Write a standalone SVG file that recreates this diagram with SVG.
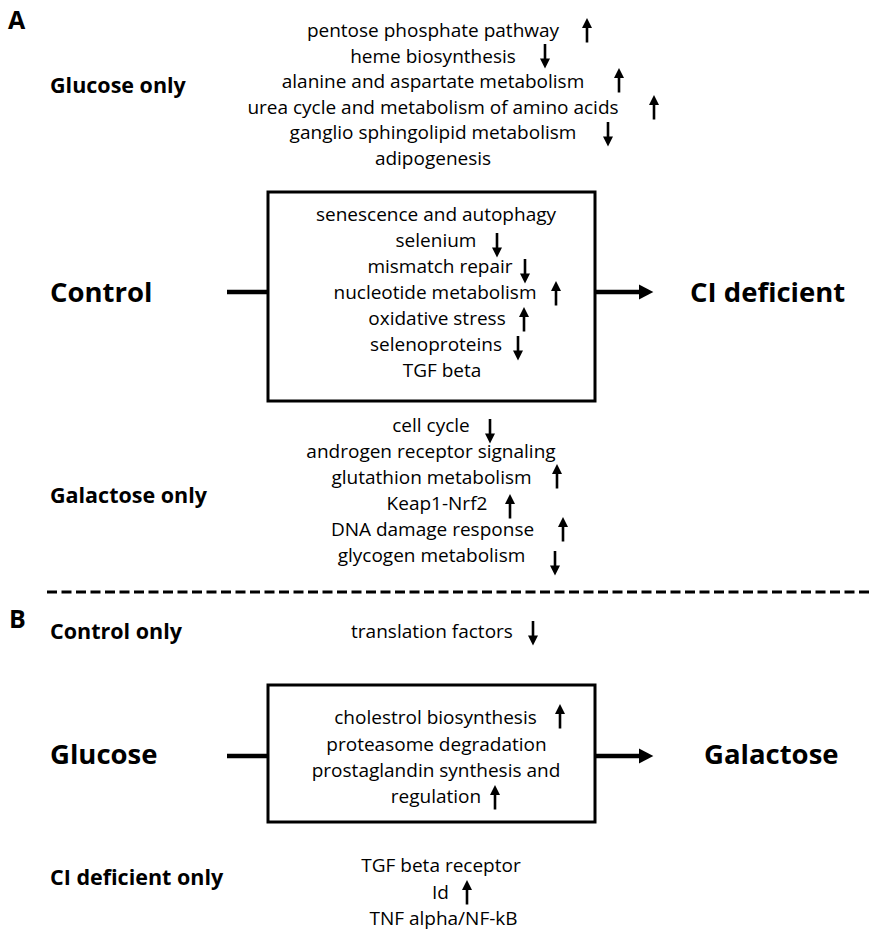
<svg xmlns="http://www.w3.org/2000/svg" xmlns:xlink="http://www.w3.org/1999/xlink" width="873" height="930" viewBox="0 0 873 930">
<style>
  .t { font-family: "Open Sans", "Liberation Sans", sans-serif; font-size: 19px; fill: #000; text-anchor: middle; }
  .lab { font-family: "Open Sans", "Liberation Sans", sans-serif; font-size: 21.5px; font-weight: bold; fill: #000; }
  .big { font-family: "Open Sans", "Liberation Sans", sans-serif; font-size: 27.5px; font-weight: bold; fill: #000; }
  .panel { font-family: "Open Sans", "Liberation Sans", sans-serif; font-size: 25px; font-weight: bold; fill: #000; }
  .box { fill: #fff; stroke: #000; stroke-width: 3; }
  .conn { stroke: #000; stroke-width: 4.5; fill: none; }
  .dash { stroke: #000; stroke-width: 3.2; stroke-dasharray: 10 4.5; fill: none; }
</style>
<defs>
  <g id="up"><line x1="0" y1="8" x2="0" y2="24.5" stroke="#000" stroke-width="2.6"/><polygon points="-5,10 0,0 5,10" fill="#000"/></g>
  <g id="down"><line x1="0" y1="0" x2="0" y2="16.5" stroke="#000" stroke-width="2.6"/><polygon points="-5,14.5 0,24.5 5,14.5" fill="#000"/></g>
  <marker id="head" markerWidth="4" markerHeight="4" refX="1" refY="2" orient="auto" markerUnits="strokeWidth">
    <polygon points="0,0.3 3.3,2 0,3.7" fill="#000"/>
  </marker>
</defs>
<rect width="873" height="930" fill="#fff"/>

<g id="panel-labels">
  <text class="panel" x="8" y="29">A</text>
  <text class="panel" x="9" y="628">B</text>
</g>

<g id="connectors">
  <line class="conn" x1="227" y1="292" x2="268" y2="292"/>
  <line class="conn" x1="595" y1="292" x2="643" y2="292" marker-end="url(#head)"/>
  <line class="conn" x1="227" y1="756" x2="268" y2="756"/>
  <line class="conn" x1="595" y1="756" x2="643" y2="756" marker-end="url(#head)"/>
  <line class="dash" x1="47" y1="592" x2="873" y2="592"/>
</g>

<g id="glucose-only">
  <text class="lab" x="50" y="93">Glucose only</text>
  <text class="t" x="433" y="37">pentose phosphate pathway</text>
  <use href="#up" x="587" y="18"/>
  <text class="t" x="433" y="62.5">heme biosynthesis</text>
  <use href="#down" x="545" y="44"/>
  <text class="t" x="433" y="88">alanine and aspartate metabolism</text>
  <use href="#up" x="619" y="68"/>
  <text class="t" x="433" y="113.5">urea cycle and metabolism of amino acids</text>
  <use href="#up" x="654" y="95"/>
  <text class="t" x="433" y="139">ganglio sphingolipid metabolism</text>
  <use href="#down" x="608" y="122"/>
  <text class="t" x="433" y="164.5">adipogenesis</text>
</g>

<g id="control">
  <text class="big" x="50" y="302">Control</text>
</g>
<g id="ci-deficient">
  <text class="big" x="690" y="302">CI deficient</text>
</g>

<g id="common-A">
  <rect class="box" x="268" y="192" width="327" height="209"/>
  <text class="t" x="436" y="221">senescence and autophagy</text>
  <text class="t" x="436" y="247">selenium</text>
  <use href="#down" x="497" y="233"/>
  <text class="t" x="440" y="273">mismatch repair</text>
  <use href="#down" x="525" y="259"/>
  <text class="t" x="435" y="299">nucleotide metabolism</text>
  <use href="#up" x="556" y="281"/>
  <text class="t" x="437" y="325">oxidative stress</text>
  <use href="#up" x="524" y="307"/>
  <text class="t" x="436" y="351">selenoproteins</text>
  <use href="#down" x="518" y="336"/>
  <text class="t" x="442" y="377">TGF beta</text>
</g>

<g id="galactose-only">
  <text class="lab" x="50" y="503">Galactose only</text>
  <text class="t" x="431" y="432">cell cycle</text>
  <use href="#down" x="490" y="419"/>
  <text class="t" x="431" y="458">androgen receptor signaling</text>
  <text class="t" x="431.5" y="484">glutathion metabolism</text>
  <use href="#up" x="557" y="464"/>
  <text class="t" x="437" y="510">Keap1-Nrf2</text>
  <use href="#up" x="510" y="494"/>
  <text class="t" x="432.5" y="536">DNA damage response</text>
  <use href="#up" x="563" y="517"/>
  <text class="t" x="431.5" y="562">glycogen metabolism</text>
  <use href="#down" x="555" y="551"/>
</g>

<g id="control-only">
  <text class="lab" x="50" y="639">Control only</text>
  <text class="t" x="432" y="638">translation factors</text>
  <use href="#down" x="533" y="621"/>
</g>

<g id="glucose">
  <text class="big" x="50" y="764">Glucose</text>
</g>
<g id="galactose">
  <text class="big" x="704" y="764">Galactose</text>
</g>

<g id="common-B">
  <rect class="box" x="268" y="685" width="327" height="137"/>
  <text class="t" x="435.5" y="724">cholestrol biosynthesis</text>
  <use href="#up" x="560" y="704"/>
  <text class="t" x="436.5" y="751">proteasome degradation</text>
  <text class="t" x="436" y="777">prostaglandin synthesis and</text>
  <text class="t" x="436" y="803">regulation</text>
  <use href="#up" x="495" y="785"/>
</g>

<g id="ci-deficient-only">
  <text class="lab" x="50" y="885">CI deficient only</text>
  <text class="t" x="441" y="872">TGF beta receptor</text>
  <text class="t" x="440.5" y="899">Id</text>
  <use href="#up" x="467" y="880"/>
  <text class="t" x="443.5" y="925">TNF alpha/NF-kB</text>
</g>
</svg>
